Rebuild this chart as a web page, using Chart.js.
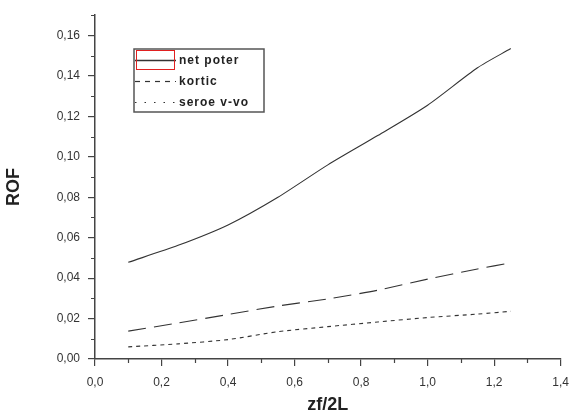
<!DOCTYPE html>
<html>
<head>
<meta charset="utf-8">
<script src="https://cdn.jsdelivr.net/npm/chart.js@4/dist/chart.umd.min.js"></script>
<style>
  html, body { margin: 0; padding: 0; background: #fff; }
  #wrap { width: 578px; height: 416px; }
</style>
</head>
<body>
<div id="wrap"><canvas id="rofChart"></canvas></div>
<script>
// values
const zfValues = [0.1, 0.25, 0.4, 0.55, 0.7, 0.85, 1.0, 1.15, 1.25];
const netPoter = [0.0478, 0.0562, 0.0663, 0.0800, 0.0960, 0.1105, 0.1255, 0.1440, 0.1535];
const kortic = [0.0138, 0.0178, 0.0220, 0.0262, 0.0297, 0.0340, 0.0395, 0.0445, 0.0476];
const seroeVvo = [0.0060, 0.0075, 0.0096, 0.0135, 0.0160, 0.0183, 0.0205, 0.0222, 0.0236];
const seriesLabels = ["net poter", "kortic", "seroe v-vo"];
const xTitle = "zf/2L";
const yTitle = "ROF";

const FONT = "Arial, 'Liberation Sans', sans-serif";
const AXIS = "#444";

const toPoints = (ys) => zfValues.map((x, i) => ({ x: x, y: ys[i] }));
const comma = (v, d) => v.toFixed(d).replace(".", ",");

// minor ticks between the labelled ones
const minorTicks = {
  id: "minorTicks",
  afterDraw(chart) {
    const { ctx, scales } = chart;
    const xs = scales.x, ys = scales.y;
    ctx.save();
    ctx.strokeStyle = AXIS;
    ctx.lineWidth = 1.2;
    ctx.beginPath();
    for (let v = 0.1; v < 1.4; v += 0.2) {
      const px = Math.round(xs.getPixelForValue(v)) + 0.5;
      ctx.moveTo(px, ys.bottom);
      ctx.lineTo(px, ys.bottom + 4);
    }
    for (let v = 0.01; v < 0.17; v += 0.02) {
      const py = Math.round(ys.getPixelForValue(v)) + 0.5;
      ctx.moveTo(xs.left, py);
      ctx.lineTo(xs.left - 4, py);
    }
    ctx.stroke();
    ctx.restore();
  },
};

// boxed legend inside the plot, like the original
const legendDash = [[], [5, 5], [1.5, 8]];
const boxLegend = {
  id: "boxLegend",
  afterDraw(chart) {
    const ctx = chart.ctx;
    const x0 = 134, y0 = 49, w = 130, h = 63;
    ctx.save();
    ctx.fillStyle = "#fff";
    ctx.fillRect(x0, y0, w, h);
    ctx.strokeStyle = "#555";
    ctx.lineWidth = 1.5;
    ctx.strokeRect(x0, y0, w, h);
    chart.data.datasets.forEach((ds, i) => {
      const cy = y0 + 11 + i * 21;
      ctx.beginPath();
      ctx.setLineDash(legendDash[i]);
      ctx.strokeStyle = "#333";
      ctx.lineWidth = i === 0 ? 1.5 : 1.2;
      ctx.moveTo(x0 + 1, cy + 0.5);
      ctx.lineTo(x0 + 42, cy + 0.5);
      ctx.stroke();
      ctx.setLineDash([]);
      ctx.fillStyle = "#222";
      ctx.font = "bold 12px " + FONT;
      ctx.textBaseline = "middle";
      if (ctx.letterSpacing !== undefined) ctx.letterSpacing = "1px";
      ctx.fillText(ds.label, x0 + 45, cy + 1);
    });
    ctx.strokeStyle = "#e02020";
    ctx.lineWidth = 1;
    ctx.strokeRect(x0 + 2.5, y0 + 1.5, 38, 19);
    ctx.restore();
  },
};

const lineStyle = (dash) => ({
  borderColor: "#333",
  borderWidth: 1.1,
  borderDash: dash,
  pointRadius: 0,
  tension: 0.25,
  fill: false,
});

new Chart(document.getElementById("rofChart"), {
  type: "line",
  data: {
    datasets: [
      { label: seriesLabels[0], data: toPoints(netPoter), ...lineStyle([]) },
      { label: seriesLabels[1], data: toPoints(kortic), ...lineStyle([18, 8]) },
      { label: seriesLabels[2], data: toPoints(seroeVvo), ...lineStyle([4, 4]) },
    ],
  },
  options: {
    responsive: true,
    maintainAspectRatio: false,
    animation: false,
    layout: { padding: { top: 12, right: 13, left: 0, bottom: 0 } },
    plugins: { legend: { display: false }, tooltip: { enabled: false } },
    scales: {
      x: {
        type: "linear",
        min: 0,
        max: 1.4,
        afterFit: (s) => { s.height = 57; },
        border: { display: true, color: AXIS, width: 1.5 },
        grid: { display: true, drawOnChartArea: false, drawTicks: true, tickLength: 7, color: AXIS, lineWidth: 1.2 },
        ticks: {
          stepSize: 0.2,
          padding: 9,
          color: "#333",
          font: { family: FONT, size: 12 },
          maxRotation: 0,
          callback: (v) => comma(v, 1),
        },
        title: {
          display: true,
          text: xTitle,
          color: "#222",
          font: { family: FONT, size: 18, weight: "bold" },
          padding: { top: 7, bottom: 0 },
        },
      },
      y: {
        min: 0,
        max: 0.17,
        afterFit: (s) => { s.width = 95; },
        afterBuildTicks: (s) => {
          s.ticks = [];
          for (let k = 0; k <= 8; k++) s.ticks.push({ value: k * 0.02 });
        },
        border: { display: true, color: AXIS, width: 1.5 },
        grid: { display: true, drawOnChartArea: false, drawTicks: true, tickLength: 7, color: AXIS, lineWidth: 1.2 },
        ticks: {
          padding: 8,
          color: "#333",
          font: { family: FONT, size: 12 },
          callback: (v) => comma(v, 2),
        },
        title: {
          display: true,
          text: yTitle,
          color: "#222",
          font: { family: FONT, size: 18, weight: "bold" },
          padding: { top: 3, bottom: 0 },
        },
      },
    },
  },
  plugins: [minorTicks, boxLegend],
});
</script>
</body>
</html>
